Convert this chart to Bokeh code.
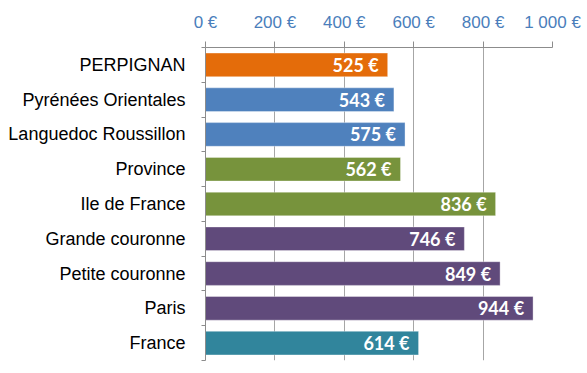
from bokeh.plotting import figure
from bokeh.models import ColumnDataSource, FixedTicker, Range1d
from bokeh.core.properties import value
from bokeh.embed import file_html
from bokeh.resources import INLINE

categories = ["PERPIGNAN", "Pyrénées Orientales", "Languedoc Roussillon", "Province",
              "Ile de France", "Grande couronne", "Petite couronne", "Paris", "France"]
values = [525, 543, 575, 562, 836, 746, 849, 944, 614]
x_ticks = [0, 200, 400, 600, 800, 1000]
x_tick_labels = ["0 €", "200 €", "400 €", "600 €", "800 €", "1 000 €"]

bar_colors = ["#E46C0A", "#4F81BD", "#4F81BD", "#77933C", "#77933C",
              "#604A7B", "#604A7B", "#604A7B", "#31859C"]

n = len(categories)
ys = [n - i - 0.5 for i in range(n)]
src = ColumnDataSource(dict(y=ys, v=values, c=bar_colors,
                            lab=[f"{v} €" for v in values]))

p = figure(frame_width=347, frame_height=313, output_backend="svg",
           toolbar_location=None, x_range=Range1d(0, 1000), y_range=Range1d(0, n),
           x_axis_location="above", min_border_left=205, min_border_top=47,
           min_border_right=30, min_border_bottom=5)
p.outline_line_color = None
p.background_fill_color = "white"
p.border_fill_color = "white"

p.hbar(y="y", right="v", left=0, height=0.68, color="c", source=src,
       line_color="white", line_alpha=0.35, line_width=1)
p.text(x="v", y="y", text="lab", source=src, x_offset=-9, text_align="right",
       text_baseline="middle", text_color="white", text_font=value("Lato"),
       text_font_style="bold", text_font_size="18px")

xa = p.xaxis[0]
xa.ticker = FixedTicker(ticks=x_ticks)
xa.major_label_overrides = {t: l for t, l in zip(x_ticks, x_tick_labels)}
xa.major_label_text_color = "#4A7EBB"
xa.major_label_text_font = "Liberation Sans"
xa.major_label_text_font_size = "17px"
xa.major_label_standoff = 10
xa.major_tick_out = 6
xa.major_tick_in = 0
xa.minor_tick_line_color = None
xa.axis_line_color = "#8C8C8C"
xa.major_tick_line_color = "#8C8C8C"

ya = p.yaxis[0]
ya.ticker = FixedTicker(ticks=ys, minor_ticks=list(range(n + 1)))
ya.major_label_overrides = {y: c for y, c in zip(ys, categories)}
ya.major_tick_out = 0
ya.major_tick_in = 0
ya.minor_tick_out = 4
ya.minor_tick_in = 0
ya.minor_tick_line_color = "#8C8C8C"
ya.axis_line_color = "#8C8C8C"
ya.major_label_text_font = "Liberation Sans"
ya.major_label_text_font_size = "18px"
ya.major_label_text_color = "black"
ya.major_label_standoff = 16

p.xgrid.grid_line_color = "#A6A6A6"
p.ygrid.grid_line_color = None

open("out.html", "w").write(file_html(p, INLINE))
